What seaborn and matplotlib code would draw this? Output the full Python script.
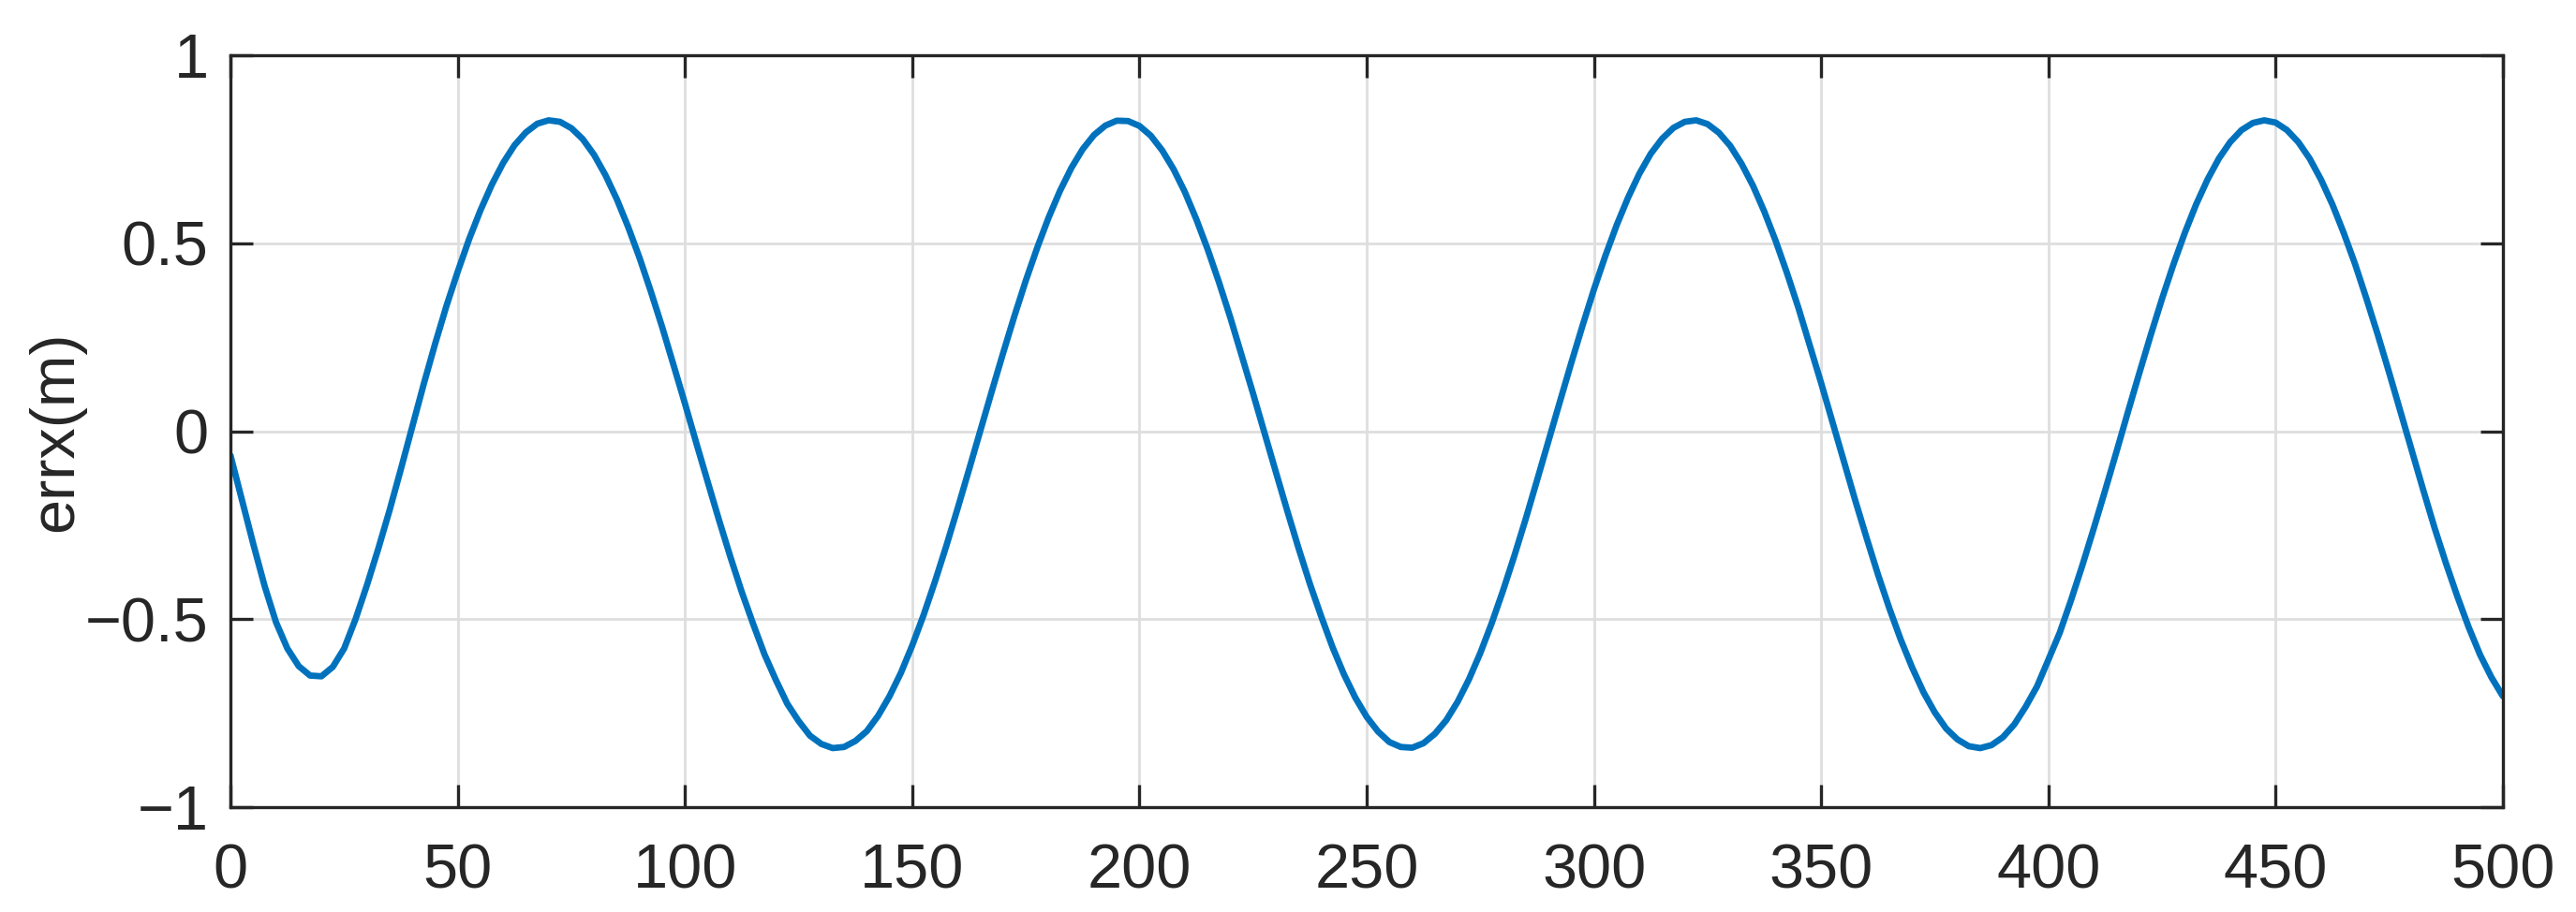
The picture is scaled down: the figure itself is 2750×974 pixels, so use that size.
import matplotlib
matplotlib.use("Agg")
import matplotlib.pyplot as plt
import seaborn as sns
import numpy as np
import pandas as pd

# values, every 2.5 units of x (0 .. 500)
x_vals = np.arange(0, 500.01, 2.5)
errx = [
    -0.065, -0.182, -0.300, -0.412, -0.508, -0.578, -0.625, -0.650, -0.652, -0.627,   # 0 - 22.5
    -0.578, -0.500, -0.410, -0.313, -0.210, -0.100, 0.013, 0.125, 0.232, 0.333,       # 25 - 47.5
    0.425, 0.511, 0.588, 0.656, 0.714, 0.761, 0.795, 0.818, 0.827, 0.823,             # 50 - 72.5
    0.806, 0.777, 0.735, 0.681, 0.617, 0.543, 0.461, 0.371, 0.276, 0.175,             # 75 - 97.5
    0.073, -0.032, -0.135, -0.237, -0.335, -0.428, -0.513, -0.594, -0.662, -0.725,    # 100 - 122.5
    -0.771, -0.810, -0.832, -0.843, -0.840, -0.824, -0.798, -0.757, -0.705, -0.643,   # 125 - 147.5
    -0.570, -0.489, -0.400, -0.305, -0.205, -0.102, 0.002, 0.106, 0.208, 0.307,       # 150 - 172.5
    0.401, 0.488, 0.568, 0.639, 0.700, 0.750, 0.788, 0.813, 0.826, 0.825,             # 175 - 197.5
    0.812, 0.786, 0.747, 0.697, 0.636, 0.564, 0.484, 0.396, 0.302, 0.201,             # 200 - 222.5
    0.100, -0.004, -0.108, -0.211, -0.311, -0.406, -0.493, -0.575, -0.647, -0.709,    # 225 - 247.5
    -0.760, -0.799, -0.827, -0.840, -0.842, -0.830, -0.805, -0.769, -0.720, -0.660,   # 250 - 272.5
    -0.590, -0.511, -0.424, -0.331, -0.233, -0.130, -0.026, 0.078, 0.181, 0.281,      # 275 - 297.5
    0.377, 0.466, 0.548, 0.621, 0.685, 0.738, 0.778, 0.807, 0.823, 0.827,             # 300 - 322.5
    0.817, 0.794, 0.759, 0.711, 0.653, 0.584, 0.506, 0.420, 0.328, 0.228,             # 325 - 347.5
    0.128, 0.024, -0.080, -0.184, -0.284, -0.381, -0.471, -0.554, -0.628, -0.694,     # 350 - 372.5
    -0.748, -0.791, -0.820, -0.838, -0.843, -0.835, -0.814, -0.780, -0.733, -0.679,   # 375 - 397.5
    -0.608, -0.536, -0.449, -0.356, -0.258, -0.157, -0.054, 0.051, 0.154, 0.255,      # 400 - 422.5
    0.352, 0.443, 0.527, 0.603, 0.669, 0.725, 0.769, 0.801, 0.820, 0.827,             # 425 - 447.5
    0.821, 0.801, 0.769, 0.725, 0.669, 0.603, 0.527, 0.444, 0.352, 0.256,             # 450 - 472.5
    0.155, 0.051, -0.053, -0.157, -0.258, -0.352, -0.440, -0.522, -0.595, -0.655,     # 475 - 497.5
    -0.705,                                                                           # 500
]
x_ticks = [0, 50, 100, 150, 200, 250, 300, 350, 400, 450, 500]
y_ticks = [-1, -0.5, 0, 0.5, 1]
y_tick_labels = ["\u22121", "\u22120.5", "0", "0.5", "1"]

df = pd.DataFrame({"t": x_vals, "errx": errx})

sns.set_theme(style="white")
plt.rcParams["font.family"] = ["Liberation Sans", "DejaVu Sans"]

ink = "#262626"
fig = plt.figure(figsize=(27.5, 9.74), dpi=100)
ax = fig.add_axes([0.0895, 0.115, 0.8821, 0.8244])

sns.lineplot(data=df, x="t", y="errx", ax=ax, color="#0072BD", linewidth=4.9)

ax.set_xlim(0, 500)
ax.set_ylim(-1, 1)
ax.set_xticks(x_ticks)
ax.set_yticks(y_ticks)
ax.set_yticklabels(y_tick_labels)
ax.set_xlabel("")
ax.set_ylabel("errx(m)", fontsize=48, color=ink, labelpad=0)

ax.grid(True, color="#dedede", linewidth=2.0)
ax.set_axisbelow(True)
for s in ax.spines.values():
    s.set_visible(True)
    s.set_color(ink)
    s.set_linewidth(2.4)

ax.tick_params(axis="both", which="major", direction="in", length=17, width=2.4,
               color=ink, labelcolor=ink, labelsize=48,
               top=True, right=True, bottom=True, left=True)
ax.tick_params(axis="x", pad=28)
ax.tick_params(axis="y", pad=17)

fig.savefig("out.png", dpi=100, facecolor="white")
